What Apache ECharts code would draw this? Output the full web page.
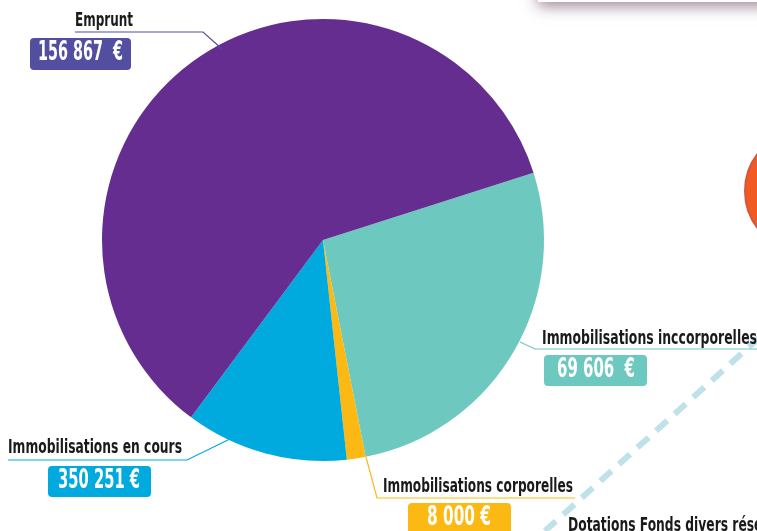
<!DOCTYPE html>
<html>
<head>
<meta charset="utf-8">
<script src="https://cdn.jsdelivr.net/npm/echarts@6/dist/echarts.min.js"></script>
<style>
html,body{margin:0;padding:0;background:#fff;}
#main{width:757px;height:531px;}
</style>
</head>
<body>
<div id="main"></div>
<script>
// Slices in clockwise order starting at the right side of the pie
const categories = ['Immobilisations inccorporelles', 'Immobilisations corporelles', 'Immobilisations en cours', 'Emprunt'];
const sliceValues = [156867, 8000, 69606, 350251];
// Amounts as printed in the label boxes
const labelAmounts = ['69 606  €', '8 000 €', '350 251 €', '156 867  €'];
const sliceColors = ['#6DC9BF', '#FDB913', '#00A9DE', '#652D90'];
const boxColors = ['#6DC9BF', '#FDB913', '#00A9DE', '#524EA0'];
const lineColors = ['#6DC9BF', '#FDB913', '#00A9DE', '#524EA0'];
const otherLabel = 'Dotations Fonds divers réserves';

const chart = echarts.init(document.getElementById('main'), null, {renderer: 'canvas'});

const FONT_FAMILY = '"DejaVu Sans Condensed","DejaVu Sans",sans-serif';
const NAME_FONT = 'bold 20px ' + FONT_FAMILY;
const AMT_FONT = 'bold 26px ' + FONT_FAMILY;

const ctx = document.createElement('canvas').getContext('2d');
function fitScale(text, font, target) {
  ctx.font = font;
  return target / ctx.measureText(text).width;
}

// Label placements: name text (left x, baseline y, target width), leader polyline, amount box, amount text (left x, target width, center y)
const labelLayout = [
  {tx: 542, ty: 345, tw: 215, pts: [[520, 342], [535, 349], [757, 349]], box: [544, 355, 103, 31], bx: 557, bw: 78, by: 370},
  {tx: 383, ty: 493, tw: 190, pts: [[366, 457], [377, 498], [575, 498]], box: [408, 503, 103, 40], bx: 427, bw: 64, by: 518},
  {tx: 8, ty: 454, tw: 174, pts: [[232, 438], [187, 460], [8, 460]], box: [48, 466, 103, 31], bx: 58, bw: 82, by: 481},
  {tx: 75, ty: 27, tw: 58, pts: [[222, 49], [203, 32], [75, 32]], box: [30, 38, 101, 32], bx: 38, bw: 85, by: 53}
];

const graphics = [];
// decorative elements from the surrounding infographic
graphics.push({type: 'rect', z: 1, shape: {x: 538, y: -60, width: 260, height: 62},
  style: {fill: '#fff', shadowBlur: 14, shadowColor: 'rgba(90,50,80,0.6)', shadowOffsetY: 4}});
graphics.push({type: 'circle', z: 1, shape: {cx: 806, cy: 191, r: 61},
  style: {fill: '#F15A22', stroke: '#D2583F', lineWidth: 2}});
graphics.push({type: 'line', z: 1, shape: {x1: 760, y1: 337, x2: 545, y2: 531},
  style: {stroke: '#BFE1EA', lineWidth: 6, lineDash: [15, 10]}});
const refScale = fitScale(categories[2], NAME_FONT, 174);
graphics.push({type: 'text', z: 5, x: 568, y: 536, scaleX: refScale,
  style: {text: otherLabel, font: NAME_FONT, fill: '#1a1a1a', textAlign: 'left', textVerticalAlign: 'bottom'}});

categories.forEach(function (name, i) {
  const L = labelLayout[i];
  graphics.push({type: 'polyline', z: 4, shape: {points: L.pts},
    style: {stroke: lineColors[i], lineWidth: 1.2, fill: null}});
  graphics.push({type: 'text', z: 5, x: L.tx, y: L.ty + 4, scaleX: fitScale(name, NAME_FONT, L.tw),
    style: {text: name, font: NAME_FONT, fill: '#1a1a1a', textAlign: 'left', textVerticalAlign: 'bottom'}});
  graphics.push({type: 'rect', z: 5, shape: {x: L.box[0], y: L.box[1], width: L.box[2], height: L.box[3], r: 4},
    style: {fill: boxColors[i]}});
  graphics.push({type: 'text', z: 6, x: L.bx, y: L.by, scaleX: fitScale(labelAmounts[i], AMT_FONT, L.bw),
    style: {text: labelAmounts[i], font: AMT_FONT, fill: '#fff', textAlign: 'left', textVerticalAlign: 'middle'}});
});

chart.setOption({
  animation: false,
  backgroundColor: '#fff',
  series: [{
    type: 'pie',
    center: [323, 240],
    radius: 221,
    startAngle: 17.7,
    clockwise: true,
    label: {show: false},
    labelLine: {show: false},
    emphasis: {disabled: true},
    itemStyle: {borderWidth: 0},
    data: categories.map(function (c, i) {
      return {name: c, value: sliceValues[i], itemStyle: {color: sliceColors[i]}};
    })
  }],
  graphic: graphics
});
</script>
</body>
</html>
